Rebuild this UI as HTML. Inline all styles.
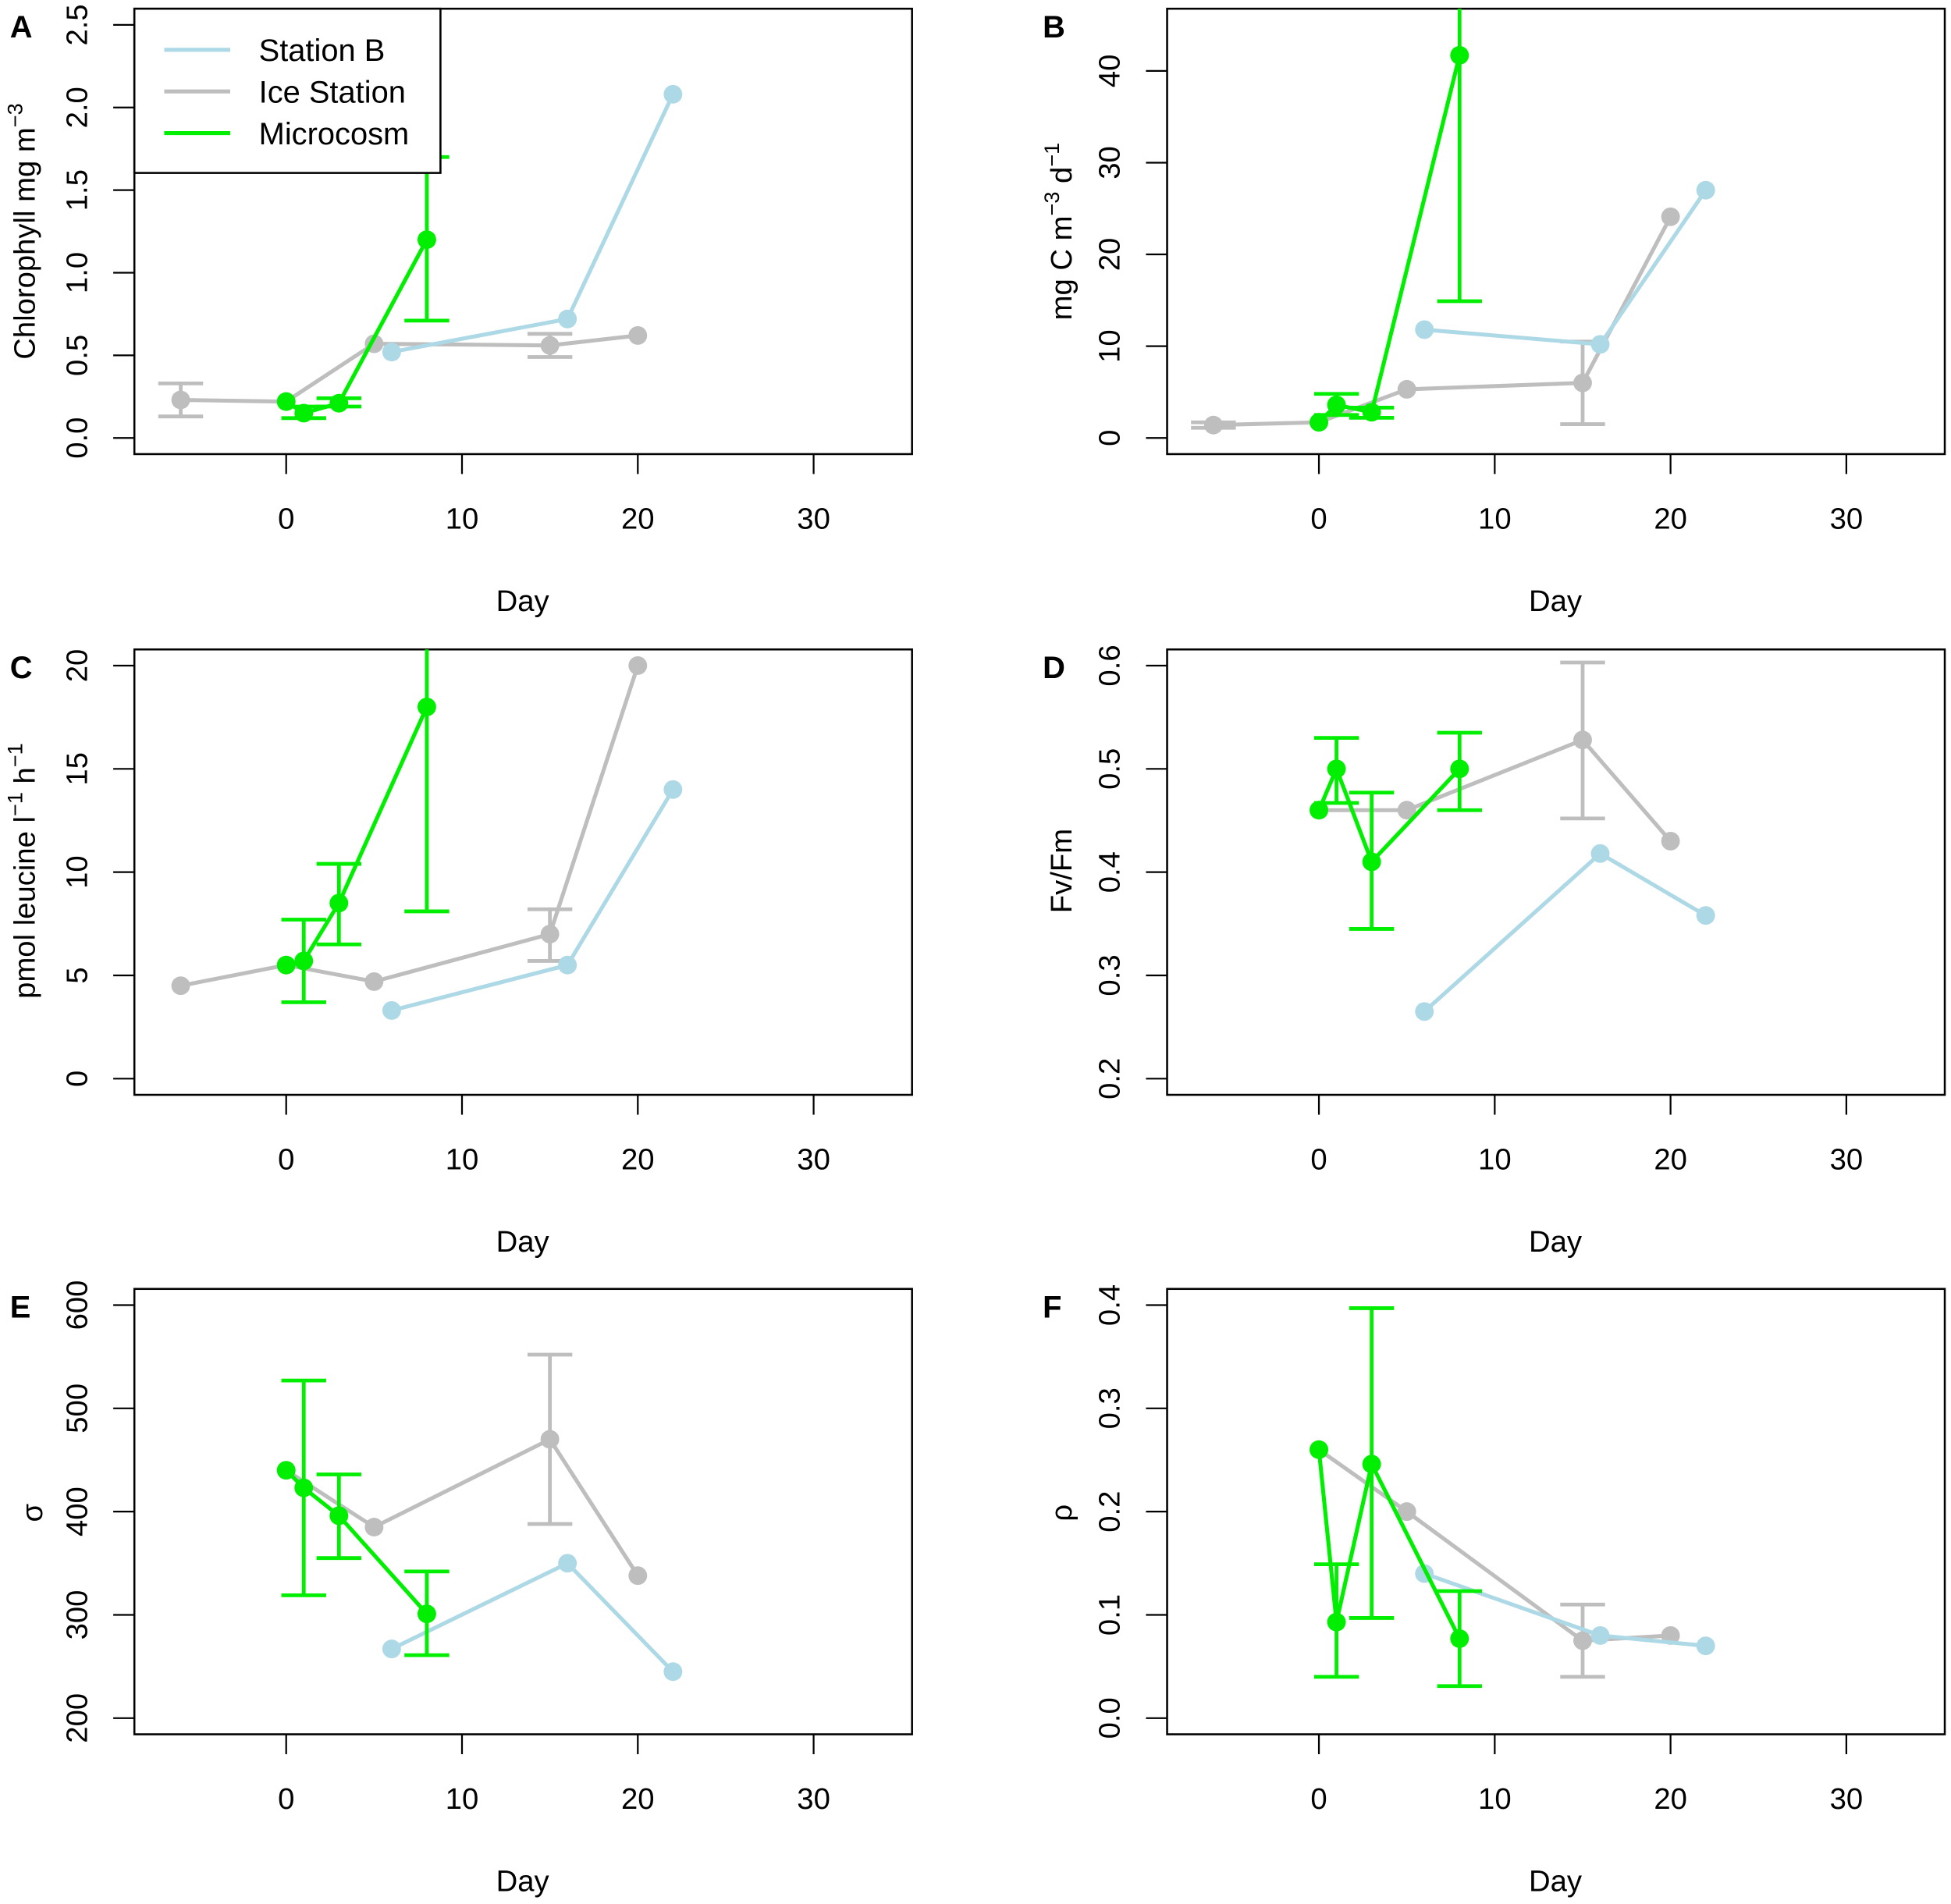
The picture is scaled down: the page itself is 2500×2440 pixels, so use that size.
<!DOCTYPE html>
<html><head><meta charset="utf-8"><style>
html,body{margin:0;padding:0;background:#fff;}
svg{display:block;font-family:"Liberation Sans",Arial,sans-serif;}
</style></head><body>
<svg id="fig" width="2500" height="2440" viewBox="0 0 1568 1530.4" preserveAspectRatio="none" xmlns="http://www.w3.org/2000/svg"></svg>
<script>
// ---- data ----
const panelLetters = ["A","B","C","D","E","F"];
// Ice Station
const iceX = [[-6,0,5,15,20],[-6,0,5,15,20],[-6,0,5,15,20],[0,5,15,20],[0,5,15,20],[0,5,15,20]];
const iceY = [[0.23,0.22,0.57,0.56,0.62],[1.4,1.7,5.3,6.0,24.1],[4.5,5.5,4.7,7.0,20.0],[0.46,0.46,0.528,0.43],[440,385,470,338],[0.26,0.20,0.075,0.08]];
const iceErrX = [[-6,15],[-6,15],[15],[15],[15],[15]];
const iceErrLo = [[0.13,0.49],[1.1,1.5],[5.7],[0.452],[388],[0.04]];
const iceErrHi = [[0.33,0.63],[1.7,10.5],[8.2],[0.603],[552],[0.11]];
// Station B
const stbX = [6,16,22];
const stbY = [[0.52,0.72,2.08],[11.8,10.2,27.0],[3.3,5.5,14.0],[0.265,0.418,0.358],[267,350,245],[0.14,0.08,0.07]];
// Microcosm
const micX = [0,1,3,8];
const micY = [[0.22,0.15,0.21,1.2],[1.7,3.6,2.8,41.7],[5.5,5.7,8.5,18.0],[0.46,0.50,0.41,0.50],[440,423,396,301],[0.26,0.093,0.246,0.077]];
const micErrX = [1,3,8];
const micErrLo = [[0.12,0.19,0.71],[2.5,2.2,14.9],[3.7,6.5,8.1],[0.467,0.345,0.46],[319,355,261],[0.04,0.097,0.031]];
const micErrHi = [[0.19,0.24,1.70],[4.8,3.3,55],[7.7,10.4,25],[0.53,0.477,0.535],[527,436,342],[0.149,0.397,0.123]];
// axes
const yMin = [0,0,0,0.2,200,0];
const yMax = [2.5,40,20,0.6,600,0.4];
const yTicks = [["0.0","0.5","1.0","1.5","2.0","2.5"],["0","10","20","30","40"],["0","5","10","15","20"],["0.2","0.3","0.4","0.5","0.6"],["200","300","400","500","600"],["0.0","0.1","0.2","0.3","0.4"]];
const xTicks = ["0","10","20","30"];

const C_ICE="#bebebe", C_STB="#add8e6", C_MIC="#00ee00";
const svg=document.getElementById('fig');
const NS="http://www.w3.org/2000/svg";
function mk(tag,attrs,parent){const e=document.createElementNS(NS,tag);for(const k in attrs)e.setAttribute(k,attrs[k]);(parent||svg).appendChild(e);return e;}

const panels=[{l:108,t:7},{l:938,t:7},{l:108,t:522},{l:938,t:522},{l:108,t:1036},{l:938,t:1036}];
const BW=625, BH=358;

panels.forEach((p,i)=>{
  const g=mk('g',{});
  
  
  const x0=p.l+122; // day 0
  const sx=d=>x0+d*14.13;
  const yb=p.t+345;
  const sy=v=>yb-(v-yMin[i])/(yMax[i]-yMin[i])*(yb-(p.t+(i==1?50:13)));
  const cp=mk('clipPath',{id:'clip'+i},g);
  mk('rect',{x:p.l,y:p.t,width:BW,height:BH},cp);
  const box=mk('rect',{x:p.l,y:p.t,width:BW,height:BH,fill:'none',stroke:'#000','stroke-width':1.6},g);
  
  
  yTicks[i].forEach(t=>{
    const y=sy(parseFloat(t));
    mk('line',{x1:p.l-17,x2:p.l,y1:y,y2:y,stroke:'#000','stroke-width':1.4},g);
    const tx=mk('text',{x:0,y:0,transform:`translate(${p.l-46},${y}) rotate(-90)`,'text-anchor':'middle','dominant-baseline':'central','font-size':24},g);
    tx.textContent=t;
    
    
  });
  xTicks.forEach(t=>{
    const x=sx(parseFloat(t));
    mk('line',{x1:x,x2:x,y1:p.t+BH,y2:p.t+BH+16,stroke:'#000','stroke-width':1.4},g);
    const tx=mk('text',{x:x,y:p.t+BH+60,'text-anchor':'middle','font-size':24},g);
    tx.textContent=t;
    
    
  });
  const xt=mk('text',{x:p.l+312,y:p.t+BH+126,'text-anchor':'middle','font-size':24},g);
  xt.textContent='Day';
  
  
  const lt=mk('text',{x:p.l-100,y:p.t+23,'font-size':25,'font-weight':'bold'},g);
  lt.textContent=panelLetters[i];
  
  

  const dg=mk('g',{'clip-path':`url(#clip${i})`},g);
  function series(xs,ys,col,name){
    const s=mk('g',{},dg);
    
    
    mk('polyline',{points:xs.map((x,k)=>sx(x)+','+sy(ys[k])).join(' '),fill:'none',stroke:col,'stroke-width':3.2},s);
    xs.forEach((x,k)=>{
      const c=mk('circle',{cx:sx(x),cy:sy(ys[k]),r:7.5,fill:col},s);
      
      
    });
  }
  function errs(xs,lo,hi,col,name){
    xs.forEach((x,k)=>{
      const e=mk('g',{stroke:col,'stroke-width':3},dg);
      
      
      const X=sx(x);
      mk('line',{x1:X,x2:X,y1:sy(lo[k]),y2:sy(hi[k])},e);
      mk('line',{x1:X-18,x2:X+18,y1:sy(lo[k]),y2:sy(lo[k])},e);
      mk('line',{x1:X-18,x2:X+18,y1:sy(hi[k]),y2:sy(hi[k])},e);
    });
  }
  errs(iceErrX[i],iceErrLo[i],iceErrHi[i],C_ICE,'ice-station');
  series(iceX[i],iceY[i],C_ICE,'ice-station-series');
  series(stbX,stbY[i],C_STB,'station-b-series');
  errs(micErrX,micErrLo[i],micErrHi[i],C_MIC,'microcosm');
  series(micX,micY[i],C_MIC,'microcosm-series');
});

function ytitle(x,y,html,name){
  const t=mk('text',{x:0,y:0,transform:`translate(${x},${y}) rotate(-90)`,'text-anchor':'middle','font-size':24});
  t.innerHTML=html;
  
  
}
ytitle(28,186,'Chlorophyll mg m<tspan dy="-10" font-size="17">−3</tspan>','y-axis-title-a');
ytitle(861,186,'mg C m<tspan dy="-10" font-size="17">−3</tspan><tspan dy="10"> d</tspan><tspan dy="-10" font-size="17">−1</tspan>','y-axis-title-b');
ytitle(28,700,'pmol leucine l<tspan dy="-10" font-size="17">−1</tspan><tspan dy="10"> h</tspan><tspan dy="-10" font-size="17">−1</tspan>','y-axis-title-c');
ytitle(861,700,'Fv/Fm','y-axis-title-d');
ytitle(34,1216,'σ','y-axis-title-e');
ytitle(861,1216,'ρ','y-axis-title-f');

const lg=mk('g',{});


mk('rect',{x:108,y:7,width:246,height:132,fill:'#fff',stroke:'#000','stroke-width':1.6},lg);
const legNames=["Station B","Ice Station","Microcosm"];
const legCols=[C_STB,C_ICE,C_MIC];
legNames.forEach((n,k)=>{
  const y=40+k*33.5;
  const e=mk('g',{},lg);
  
  
  mk('line',{x1:132,x2:185,y1:y,y2:y,stroke:legCols[k],'stroke-width':3.2},e);
  const t=mk('text',{x:208,y:y+9,'font-size':25},e);
  t.textContent=n;
});
</script>
</body></html>
